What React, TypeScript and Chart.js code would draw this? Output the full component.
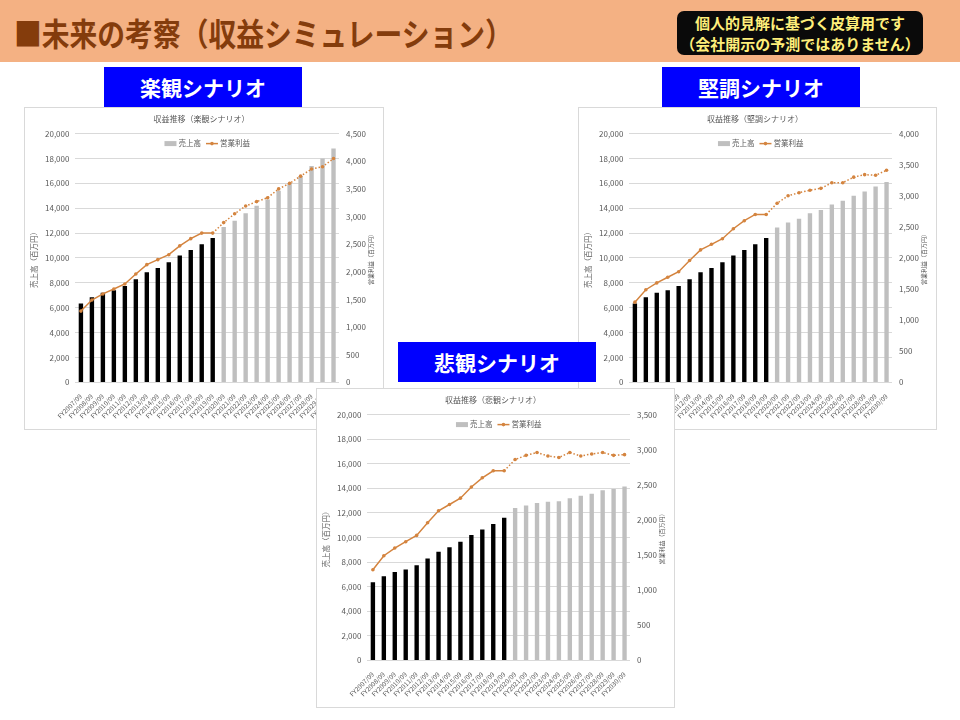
import React, { useEffect, useRef } from "react";
import { Chart, registerables } from "chart.js";

Chart.register(...registerables);

// ---------- data ----------
const categories = [
  "FY2007/09", "FY2008/09", "FY2009/09", "FY2010/09", "FY2011/09", "FY2012/09",
  "FY2013/09", "FY2014/09", "FY2015/09", "FY2016/09", "FY2017/09", "FY2018/09",
  "FY2019/09", "FY2020/09", "FY2021/09", "FY2022/09", "FY2023/09", "FY2024/09",
  "FY2025/09", "FY2026/09", "FY2027/09", "FY2028/09", "FY2029/09", "FY2030/09",
];

// actual results (FY2007-FY2019)
const salesActual = [6350, 6850, 7200, 7400, 7750, 8300, 8850, 9200, 9650, 10200, 10650, 11100, 11600];
const profitActual = [1290, 1490, 1600, 1690, 1780, 1960, 2130, 2220, 2310, 2470, 2600, 2700, 2700];

// forecasts (FY2020-FY2030)
const salesOptimistic = [12500, 13000, 13600, 14200, 14700, 15400, 16000, 16600, 17400, 18000, 18800];
const profitOptimistic = [2890, 3050, 3190, 3270, 3340, 3500, 3600, 3730, 3860, 3900, 4050];

const salesSteady = [12450, 12850, 13150, 13600, 13850, 14300, 14600, 15000, 15350, 15750, 16100];
const profitSteady = [2880, 3000, 3050, 3090, 3120, 3210, 3210, 3300, 3340, 3330, 3410];

const salesPessimistic = [12400, 12600, 12800, 12900, 12950, 13200, 13400, 13550, 13850, 13950, 14150];
const profitPessimistic = [2860, 2920, 2960, 2910, 2890, 2960, 2910, 2940, 2960, 2920, 2930];

const salesAxisMax = 20000;
const salesAxisStep = 2000;
const profitAxisStep = 500;
const profitAxisMaxOptimistic = 4500;
const profitAxisMaxSteady = 4000;
const profitAxisMaxPessimistic = 3500;

const LEGEND_SALES = "売上高";
const LEGEND_PROFIT = "営業利益";
const AXIS_SALES = "売上高（百万円）";
const AXIS_PROFIT = "営業利益（百万円）";

// ---------- style ----------
const FONT = "'Noto Sans CJK JP', 'Noto Sans', sans-serif";
const TEXT = "#595959";
const GRID = "#D9D9D9";
const BAR_ACTUAL = "#000000";
const BAR_FORECAST = "#BFBFBF";
const LINE = "#D4843F";
const ACTUAL_COUNT = salesActual.length;

const fmt = (v: number) => Number(v).toLocaleString("en-US");

const excelPlugin = {
  id: "excelDecor",
  afterDraw(chart: any) {
    const { ctx, chartArea, width } = chart;
    ctx.save();
    // legend inside the plot area
    ctx.font = `7.5px ${FONT}`;
    ctx.textBaseline = "middle";
    const w1 = ctx.measureText(LEGEND_SALES).width;
    const w2 = ctx.measureText(LEGEND_PROFIT).width;
    const sw = 12, gap = 2, sep = 5;
    const total = sw + gap + w1 + sep + sw + gap + w2;
    const cx = (chartArea.left + chartArea.right) / 2;
    const y = chartArea.top + 10;
    let x = cx - total / 2;
    ctx.fillStyle = BAR_FORECAST;
    ctx.fillRect(x, y - 2.5, sw, 5);
    x += sw + gap;
    ctx.fillStyle = TEXT;
    ctx.fillText(LEGEND_SALES, x, y);
    x += w1 + sep;
    ctx.strokeStyle = LINE;
    ctx.lineWidth = 1.5;
    ctx.beginPath();
    ctx.moveTo(x, y);
    ctx.lineTo(x + sw, y);
    ctx.stroke();
    ctx.fillStyle = LINE;
    ctx.beginPath();
    ctx.arc(x + sw / 2, y, 1.8, 0, Math.PI * 2);
    ctx.fill();
    x += sw + gap;
    ctx.fillStyle = TEXT;
    ctx.fillText(LEGEND_PROFIT, x, y);
    // right axis title, rotated like Excel's (reads bottom to top)
    ctx.font = `6px ${FONT}`;
    ctx.textAlign = "center";
    ctx.translate(width - 12, (chartArea.top + chartArea.bottom) / 2);
    ctx.rotate(-Math.PI / 2);
    ctx.fillText(AXIS_PROFIT, 0, 0);
    ctx.restore();
  },
};

type ChartProps = {
  left: number;
  top: number;
  width: number;
  height: number;
  title: string;
  forecastSales: number[];
  forecastProfit: number[];
  profitMax: number;
};

function ScenarioChart(p: ChartProps) {
  const ref = useRef<HTMLCanvasElement | null>(null);
  useEffect(() => {
    if (!ref.current) return;
    const sales = [...salesActual, ...p.forecastSales];
    const profit = [...profitActual, ...p.forecastProfit];
    const chart = new Chart(ref.current, {
      data: {
        labels: categories,
        datasets: [
          {
            type: "line",
            label: LEGEND_PROFIT,
            data: profit,
            yAxisID: "y1",
            borderColor: LINE,
            backgroundColor: LINE,
            borderWidth: 1.5,
            pointRadius: 1.8,
            pointBorderWidth: 0,
            pointBackgroundColor: LINE,
            tension: 0,
            order: 0,
            segment: {
              borderDash: (ctx: any) => (ctx.p0DataIndex >= ACTUAL_COUNT - 1 ? [1.5, 2] : undefined),
            },
          } as any,
          {
            type: "bar",
            label: LEGEND_SALES,
            data: sales,
            yAxisID: "y",
            backgroundColor: sales.map((_, i) => (i < ACTUAL_COUNT ? BAR_ACTUAL : BAR_FORECAST)),
            barPercentage: 0.5,
            categoryPercentage: 0.8,
            order: 1,
          } as any,
        ],
      },
      options: {
        responsive: false,
        animation: false,
        layout: { padding: { left: 5, right: 10, top: 0, bottom: 7 } },
        plugins: {
          legend: { display: false },
          tooltip: { enabled: false },
          title: {
            display: true,
            text: p.title,
            color: TEXT,
            font: { size: 8, family: FONT, weight: "normal" },
            padding: { top: 6, bottom: 10 },
          },
        },
        scales: {
          x: {
            ticks: {
              autoSkip: false,
              maxRotation: 45,
              minRotation: 45,
              color: TEXT,
              font: { size: 6.5, family: FONT },
              padding: 2,
            },
            grid: { display: false },
            border: { display: false },
          },
          y: {
            position: "left",
            min: 0,
            max: salesAxisMax,
            ticks: {
              stepSize: salesAxisStep,
              color: TEXT,
              font: { size: 8, family: FONT },
              padding: 6,
              callback: (v: any) => fmt(v),
            },
            grid: { color: GRID, drawTicks: false },
            border: { display: false },
            title: {
              display: true,
              text: AXIS_SALES,
              color: TEXT,
              font: { size: 7.5, family: FONT },
              padding: { top: 0, bottom: 0 },
            },
          },
          y1: {
            position: "right",
            min: 0,
            max: p.profitMax,
            ticks: {
              stepSize: profitAxisStep,
              color: TEXT,
              font: { size: 8, family: FONT },
              padding: 7,
              callback: (v: any) => fmt(v),
            },
            grid: { display: false, drawTicks: false },
            border: { display: false },
          },
        },
      } as any,
      plugins: [excelPlugin],
    } as any);
    return () => chart.destroy();
  }, []);
  return (
    <div
      style={{
        position: "absolute",
        left: p.left,
        top: p.top,
        width: p.width,
        height: p.height,
        boxSizing: "border-box",
        border: `1px solid ${GRID}`,
        background: "#fff",
      }}
    >
      <canvas
        ref={ref}
        width={p.width - 2}
        height={p.height - 2}
        style={{ display: "block", width: p.width - 2, height: p.height - 2 }}
      />
    </div>
  );
}

function Banner({ left, top, text }: { left: number; top: number; text: string }) {
  return (
    <div
      style={{
        position: "absolute",
        left,
        top,
        width: 198,
        height: 40,
        background: "#0000FF",
        color: "#fff",
        fontWeight: "bold",
        fontSize: 21,
        lineHeight: "40px",
        textAlign: "center",
        fontFamily: FONT,
      }}
    >
      {text}
    </div>
  );
}

export default function App() {
  return (
    <div
      style={{
        position: "absolute",
        left: 0,
        top: 0,
        width: 960,
        height: 720,
        background: "#fff",
        overflow: "hidden",
        fontFamily: FONT,
      }}
    >
      <div style={{ position: "absolute", left: 0, top: 0, width: 960, height: 62, background: "#F4B183" }} />
      <div
        style={{
          position: "absolute",
          left: 14,
          top: 14,
          fontSize: 32,
          lineHeight: "36px",
          fontWeight: "bold",
          color: "#843C0C",
          whiteSpace: "nowrap",
          transform: "scaleX(0.868)",
          transformOrigin: "left center",
        }}
      >
        ■未来の考察（収益シミュレーション）
      </div>
      <div
        style={{
          position: "absolute",
          left: 677,
          top: 11,
          width: 246,
          height: 44,
          borderRadius: 7,
          background: "#0A0A0A",
          color: "#FFEF7A",
          fontWeight: "bold",
          fontSize: 15,
          lineHeight: "21px",
          textAlign: "center",
          paddingTop: 1,
          boxSizing: "border-box",
          whiteSpace: "nowrap",
        }}
      >
        <div>個人的見解に基づく皮算用です</div>
        <div>（会社開示の予測ではありません）</div>
      </div>

      <ScenarioChart
        left={24}
        top={107}
        width={360}
        height={323}
        title="収益推移（楽観シナリオ）"
        forecastSales={salesOptimistic}
        forecastProfit={profitOptimistic}
        profitMax={profitAxisMaxOptimistic}
      />
      <ScenarioChart
        left={578}
        top={107}
        width={359}
        height={323}
        title="収益推移（堅調シナリオ）"
        forecastSales={salesSteady}
        forecastProfit={profitSteady}
        profitMax={profitAxisMaxSteady}
      />
      <Banner left={104} top={67} text="楽観シナリオ" />
      <Banner left={662} top={67} text="堅調シナリオ" />
      <Banner left={398} top={342} text="悲観シナリオ" />
      <ScenarioChart
        left={316}
        top={388}
        width={359}
        height={320}
        title="収益推移（悲観シナリオ）"
        forecastSales={salesPessimistic}
        forecastProfit={profitPessimistic}
        profitMax={profitAxisMaxPessimistic}
      />
    </div>
  );
}
